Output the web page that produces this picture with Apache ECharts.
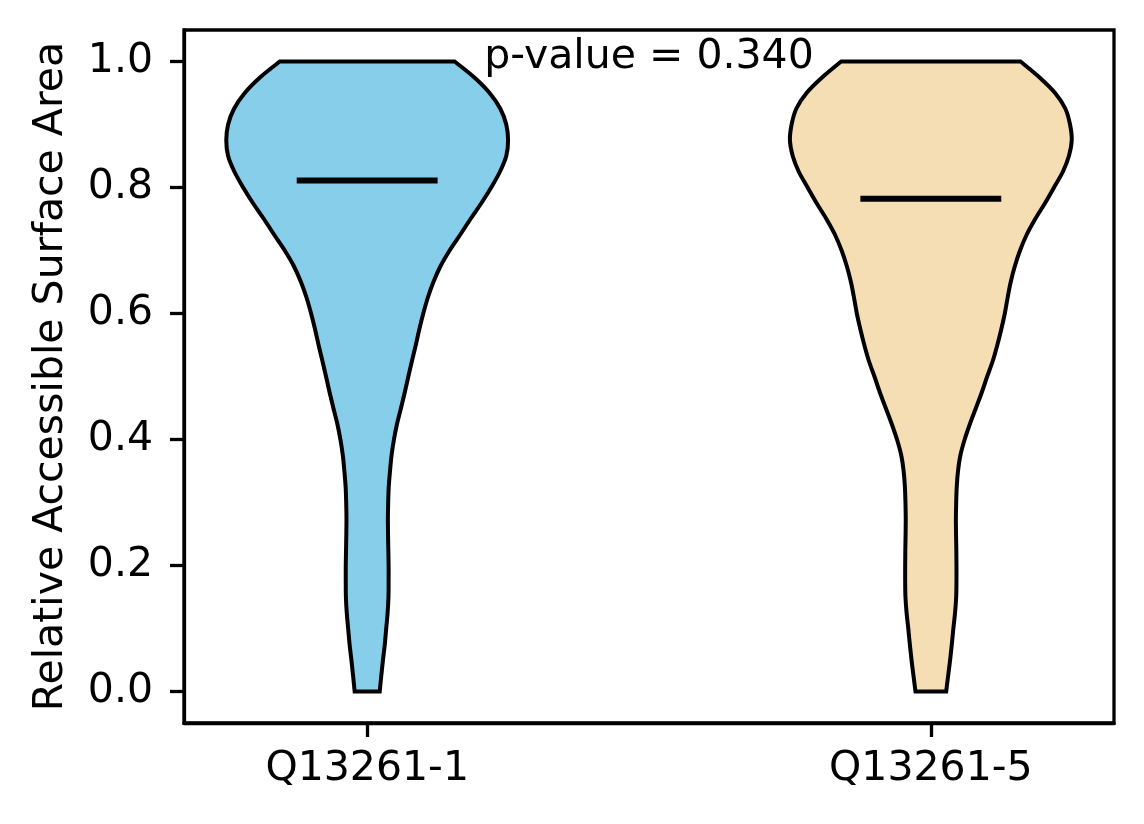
<!DOCTYPE html>
<html>
<head>
<meta charset="utf-8">
<title>Violin</title>
<script src="https://cdn.jsdelivr.net/npm/echarts@6/dist/echarts.min.js"></script>
<style>
  html, body { margin: 0; padding: 0; background: #fff; }
  #chart { width: 1144px; height: 824px; }
</style>
</head>
<body>
<div id="chart"></div>
<script>
// categories and their x positions
const categories = ['Q13261-1', 'Q13261-5'];
const positions = [1, 2];

// y levels where the violin width was read (bottom -> top)
const yLevels = [0, 0.025, 0.05, 0.075, 0.1, 0.125, 0.15, 0.175, 0.2, 0.225,
  0.25, 0.275, 0.3, 0.325, 0.35, 0.375, 0.4, 0.425, 0.45, 0.475,
  0.5, 0.525, 0.55, 0.575, 0.6, 0.625, 0.65, 0.675, 0.7, 0.725,
  0.75, 0.775, 0.8, 0.825, 0.85, 0.875, 0.9, 0.925, 0.95, 0.975, 1.0];

// relative density (violin width, max = 1) at each y level
const densityQ1 = [0.089, 0.100, 0.112, 0.125, 0.135, 0.145, 0.151, 0.152, 0.152, 0.150,
  0.148, 0.147, 0.149, 0.153, 0.162, 0.173, 0.190, 0.212, 0.240, 0.267,
  0.292, 0.318, 0.345, 0.370, 0.398, 0.430, 0.470, 0.520, 0.585, 0.660,
  0.733, 0.810, 0.880, 0.942, 0.987, 1.000, 0.987, 0.945, 0.869, 0.759, 0.620];
const densityQ5 = [0.109, 0.123, 0.137, 0.149, 0.160, 0.172, 0.180, 0.182, 0.182, 0.181,
  0.179, 0.178, 0.180, 0.184, 0.193, 0.210, 0.240, 0.278, 0.320, 0.362,
  0.400, 0.440, 0.472, 0.500, 0.525, 0.545, 0.567, 0.596, 0.633, 0.680,
  0.741, 0.810, 0.874, 0.937, 0.980, 1.000, 0.988, 0.955, 0.882, 0.770, 0.636];
const densities = [densityQ1, densityQ5];

// mean of each group
const means = [0.811, 0.782];

// y axis ticks
const yTicks = [0, 0.2, 0.4, 0.6, 0.8, 1.0];

const pValueLabel = 'p-value = 0.340';

const fillColors = ['#87CEEB', '#F5DEB3'];
const HALF_WIDTH = 0.25;
const FONT = 'DejaVu Sans';

// catmull-rom through pts -> svg cubic segments (no leading M)
function smoothSegments(pts) {
  let d = '';
  for (let i = 0; i < pts.length - 1; i++) {
    const p0 = pts[i - 1] || pts[i];
    const p1 = pts[i];
    const p2 = pts[i + 1];
    const p3 = pts[i + 2] || p2;
    const c1x = p1[0] + (p2[0] - p0[0]) / 6, c1y = p1[1] + (p2[1] - p0[1]) / 6;
    const c2x = p2[0] - (p3[0] - p1[0]) / 6, c2y = p2[1] - (p3[1] - p1[1]) / 6;
    d += ' C' + c1x + ' ' + c1y + ' ' + c2x + ' ' + c2y + ' ' + p2[0] + ' ' + p2[1];
  }
  return d;
}

function renderViolin(params, api) {
  const i = params.dataIndex;
  const x = api.value(0);
  const dens = densities[i];
  const left = [], right = [];
  // left side top -> bottom
  for (let k = yLevels.length - 1; k >= 0; k--) {
    left.push(api.coord([x - dens[k] * HALF_WIDTH, yLevels[k]]));
  }
  // right side bottom -> top
  for (let k = 0; k < yLevels.length; k++) {
    right.push(api.coord([x + dens[k] * HALF_WIDTH, yLevels[k]]));
  }
  let d = 'M' + left[0][0] + ' ' + left[0][1] + smoothSegments(left);
  d += ' L' + right[0][0] + ' ' + right[0][1] + smoothSegments(right) + ' Z';

  const m0 = api.coord([x - HALF_WIDTH / 2, means[i]]);
  const m1 = api.coord([x + HALF_WIDTH / 2, means[i]]);
  return {
    type: 'group',
    children: [{
      type: 'path',
      shape: { pathData: d },
      style: { fill: fillColors[i], stroke: '#000', lineWidth: 4, lineJoin: 'miter' }
    }, {
      type: 'line',
      shape: { x1: m0[0], y1: m0[1], x2: m1[0], y2: m1[1] },
      style: { stroke: '#000', lineWidth: 6 }
    }]
  };
}

function renderPValue(params, api) {
  const p = api.coord([api.value(0), api.value(1)]);
  return {
    type: 'text',
    x: p[0],
    y: p[1] + 16,
    style: {
      text: pValueLabel,
      fontFamily: FONT,
      fontSize: 41,
      fill: '#000',
      align: 'center',
      verticalAlign: 'bottom'
    }
  };
}

const chart = echarts.init(document.getElementById('chart'), null, { renderer: 'canvas' });
chart.setOption({
  backgroundColor: '#fff',
  animation: false,
  grid: {
    left: 184, top: 30, width: 930, height: 693,
    show: true, borderColor: '#000', borderWidth: 3.3, backgroundColor: 'transparent'
  },
  xAxis: {
    type: 'value',
    min: 0.675, max: 2.325,
    splitLine: { show: false },
    axisLine: { show: true, onZero: false, lineStyle: { color: '#000', width: 3.3 } },
    axisTick: { show: true, length: 14, lineStyle: { color: '#000', width: 3.3 }, customValues: positions },
    axisLabel: {
      customValues: positions,
      margin: 26,
      fontFamily: FONT, fontSize: 41, color: '#000',
      formatter: v => categories[positions.indexOf(Math.round(v))] || ''
    }
  },
  yAxis: {
    type: 'value',
    min: -0.05, max: 1.05,
    name: 'Relative Accessible Surface Area',
    nameLocation: 'middle',
    nameGap: 112,
    nameTextStyle: { fontFamily: FONT, fontSize: 41, color: '#000' },
    splitLine: { show: false },
    axisLine: { show: true, onZero: false, lineStyle: { color: '#000', width: 3.3 } },
    axisTick: { show: true, length: 14, lineStyle: { color: '#000', width: 3.3 }, customValues: yTicks },
    axisLabel: {
      customValues: yTicks,
      margin: 31,
      fontFamily: FONT, fontSize: 41, color: '#000',
      formatter: v => v.toFixed(1)
    }
  },
  series: [{
    type: 'custom',
    renderItem: renderViolin,
    data: positions.map(p => [p]),
    encode: { x: 0 },
    clip: false,
    z: 2
  }, {
    type: 'custom',
    renderItem: renderPValue,
    data: [[1.5, 1.0]],
    clip: false,
    z: 3
  }]
});
</script>
</body>
</html>
